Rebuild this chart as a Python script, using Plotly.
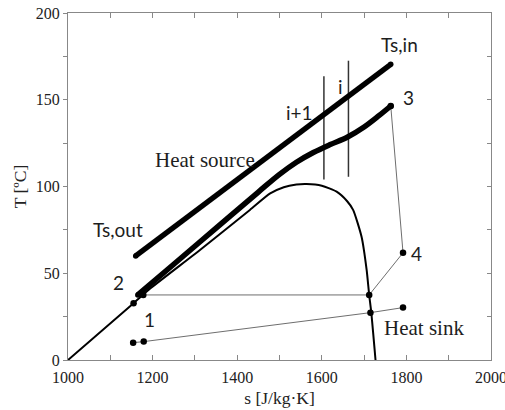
import plotly.graph_objects as go

# ---- data (s in J/kg.K, T in degC) ----
source_s = [1160, 1763]
source_T = [60, 170.4]

fluid_s = [1165, 1250, 1350, 1450, 1500, 1540, 1580, 1620, 1660, 1700, 1735, 1763]
fluid_T = [37.5, 55.2, 76.0, 96.8, 107.0, 114.0, 119.6, 124.2, 128.4, 134.3, 140.8, 146.4]

dome_s = [1000, 1155, 1195, 1312, 1430, 1478, 1510, 1540, 1564, 1600, 1635, 1660, 1674, 1694, 1706, 1712, 1717, 1727]
dome_T = [0, 32.7, 41.3, 63.4, 86.5, 96.0, 99.6, 101.1, 101.4, 100.4, 97.0, 91.5, 86.5, 71.0, 51.9, 37.5, 27.3, 0]

cycle_s = [1763, 1792, 1712, 1178]
cycle_T = [146.4, 61.8, 37.5, 37.5]

sink_s = [1154, 1179, 1715, 1792]
sink_T = [10.0, 10.6, 27.3, 30.2]

dots_s = [1154, 1179, 1715, 1792, 1792, 1712, 1763, 1155, 1178]
dots_T = [10.0, 10.6, 27.3, 30.2, 61.8, 37.5, 146.4, 32.7, 37.5]

seg_i1_s = [1605, 1605]
seg_i1_T = [104, 163.5]
seg_i_s = [1663, 1663]
seg_i_T = [105.6, 172.5]

xticks = [1000, 1200, 1400, 1600, 1800, 2000]
yticks = [0, 50, 100, 150, 200]

fig = go.Figure()

# thin gray process lines
fig.add_trace(go.Scatter(x=cycle_s, y=cycle_T, mode="lines",
                         line=dict(color="#6e6e6e", width=1)))
fig.add_trace(go.Scatter(x=sink_s, y=sink_T, mode="lines",
                         line=dict(color="#6e6e6e", width=1)))
# vertical segment lines
fig.add_trace(go.Scatter(x=seg_i1_s, y=seg_i1_T, mode="lines",
                         line=dict(color="#333333", width=1.5)))
fig.add_trace(go.Scatter(x=seg_i_s, y=seg_i_T, mode="lines",
                         line=dict(color="#333333", width=1.5)))
# saturation dome
fig.add_trace(go.Scatter(x=dome_s, y=dome_T, mode="lines",
                         line=dict(color="black", width=2, shape="spline", smoothing=0.6)))
# heat source
fig.add_trace(go.Scatter(x=source_s, y=source_T, mode="lines+markers",
                         line=dict(color="black", width=5.5),
                         marker=dict(color="black", size=5.5)))
# working fluid heating curve
fig.add_trace(go.Scatter(x=fluid_s, y=fluid_T, mode="lines",
                         line=dict(color="black", width=5.5, shape="spline", smoothing=1.0)))
fig.add_trace(go.Scatter(x=[fluid_s[0], fluid_s[-1]], y=[fluid_T[0], fluid_T[-1]], mode="markers",
                         marker=dict(color="black", size=5.5)))
# state dots
fig.add_trace(go.Scatter(x=dots_s, y=dots_T, mode="markers",
                         marker=dict(color="black", size=6.5)))

# dummy trace for right axis
fig.add_trace(go.Scatter(x=[1000], y=[0], yaxis="y2", mode="markers",
                         marker=dict(opacity=0), hoverinfo="skip"))

calib = dict(family="Lato, 'Open Sans', sans-serif", size=19, color="#1e1e1e")
serif = dict(family="'Liberation Serif', 'Times New Roman', serif", size=21, color="#1e1e1e")

ann = [
    ("Ts,in", 1784, 181.6, calib),
    ("Ts,out", 1119, 75.5, calib),
    ("i+1", 1548, 142.5, calib),
    ("i", 1644, 157.9, calib),
    ("3", 1806, 151.4, calib),
    ("4", 1823.6, 61.5, calib),
    ("2", 1120, 44.6, calib),
    ("1", 1193, 23.5, calib),
    ("Heat source", 1324, 115.3, serif),
    ("Heat sink", 1841, 18.4, serif),
]
annotations = [dict(text=t, x=x, y=y, xref="x", yref="y", showarrow=False,
                    font=f, xanchor="center", yanchor="middle") for t, x, y, f in ann]

axis_font = dict(family="'Liberation Serif', 'Times New Roman', serif", size=16, color="#222222")
title_font = dict(family="'Liberation Serif', 'Times New Roman', serif", size=17.5, color="#222222")

fig.update_layout(
    width=505, height=410,
    margin=dict(l=67.5, r=13.5, t=13, b=50, autoexpand=False),
    paper_bgcolor="white", plot_bgcolor="white",
    showlegend=False,
    annotations=annotations,
    xaxis=dict(range=[1000, 2000], tickvals=xticks, ticktext=[str(v) for v in xticks],
               ticks="inside", ticklen=5, tickcolor="#888888", tickwidth=1,
               minor=dict(dtick=100, tick0=1000, ticks="inside", ticklen=5, tickcolor="#888888"),
               showline=True, linecolor="#888888", linewidth=1, mirror="ticks",
               showgrid=False, zeroline=False, tickfont=axis_font, automargin=False,
               ticklabeloverflow="allow", ticklabelstandoff=3,
               title=dict(text="s [J/kg·K]", font=title_font, standoff=6)),
    yaxis=dict(range=[0, 200], tickvals=yticks, ticktext=[str(v) for v in yticks],
               ticks="outside", ticklen=4, tickcolor="#888888", tickwidth=1,
               minor=dict(dtick=25, tick0=0, ticks="outside", ticklen=4, tickcolor="#888888"),
               showline=True, linecolor="#888888", linewidth=1, mirror=True,
               showgrid=False, zeroline=False, tickfont=axis_font, automargin=False,
               title=dict(text="T [ºC]", font=title_font, standoff=4)),
    yaxis2=dict(range=[0, 200], overlaying="y", side="right", showticklabels=False,
                tickvals=yticks, ticks="inside", ticklen=4, tickcolor="#888888",
                minor=dict(dtick=25, tick0=0, ticks="inside", ticklen=4, tickcolor="#888888"),
                showline=False, showgrid=False, zeroline=False, automargin=False),
)

fig.write_html("out.html")
